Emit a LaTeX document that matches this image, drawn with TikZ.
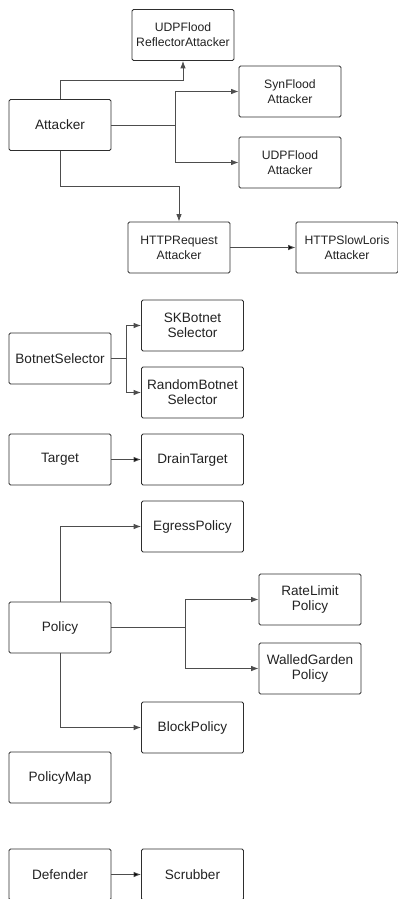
\documentclass[tikz,border=0pt]{standalone}
\usepackage{fontspec}
\setmainfont{Liberation Sans}
\usetikzlibrary{arrows.meta}
\definecolor{linegray}{HTML}{2E2E2E}
\definecolor{textgray}{HTML}{222222}

\begin{document}
\begin{tikzpicture}[x=1pt,y=-1pt,
        cls/.style={draw=linegray,line width=0.8pt,rounded corners=1.5pt,
            minimum width=102pt,minimum height=51pt,inner sep=1pt,align=center,
            text=textgray,font=\fontsize{13.6}{15}\selectfont},
        subcls/.style={cls,font=\fontsize{12.2}{15}\selectfont},
        inh/.style={draw=linegray!85!white,line width=0.8pt,-{Latex[length=7.5pt,width=5.5pt]}}]
        \clip (0,0) rectangle (398,899);
        \node[cls] (Attacker) at (60,125) {Attacker};
        \node[subcls] (Reflector) at (183,35) {UDPFlood\\ReflectorAttacker};
        \node[subcls] (SynFlood) at (290,91.5) {SynFlood\\Attacker};
        \node[subcls] (UDPFlood) at (290,162.5) {UDPFlood\\Attacker};
        \node[subcls] (HTTPRequest) at (179,247.5) {HTTPRequest\\Attacker};
        \node[subcls] (SlowLoris) at (347,247.5) {HTTPSlowLoris\\Attacker};
        \node[cls] (BotnetSel) at (60,358.5) {BotnetSelector};
        \node[cls] (SKBotnet) at (192.5,325.5) {SKBotnet\\Selector};
        \node[cls] (RandomBotnet) at (192.5,392.5) {RandomBotnet\\Selector};
        \node[cls] (Target) at (60,459.5) {Target};
        \node[cls] (DrainTarget) at (192.5,459.5) {DrainTarget};
        \node[cls] (Egress) at (192.5,526.5) {EgressPolicy};
        \node[cls] (RateLimit) at (310,599.5) {RateLimit\\Policy};
        \node[cls] (Policy) at (60,627.5) {Policy};
        \node[cls] (Walled) at (310,668.5) {WalledGarden\\Policy};
        \node[cls] (Block) at (192.5,727.5) {BlockPolicy};
        \node[cls] (PolicyMap) at (60,777.5) {PolicyMap};
        \node[cls] (Defender) at (60,874.5) {Defender};
        \node[cls] (Scrubber) at (192.5,874.5) {Scrubber};
        \draw[inh] (Attacker.north) -- ++(0,-19) -| (Reflector.south);
        \draw[inh] (Attacker.east) -- ++(64,0) |- (SynFlood.west);
        \draw[inh] (Attacker.east) -- ++(64,0) |- (UDPFlood.west);
        \draw[inh] (Attacker.south) -- ++(0,35) -| (HTTPRequest.north);
        \draw[inh] (BotnetSel.east) -- ++(15,0) |- (SKBotnet.west);
        \draw[inh] (BotnetSel.east) -- ++(15,0) |- (RandomBotnet.west);
        \draw[inh] (Policy.north) |- (Egress.west);
        \draw[inh] (Policy.east) -- ++(74,0) |- (RateLimit.west);
        \draw[inh] (Policy.east) -- ++(74,0) |- (Walled.west);
        \draw[inh] (Policy.south) |- (Block.west);
        \path[inh]
        (HTTPRequest) edge (SlowLoris)
        (Target) edge (DrainTarget)
        (Defender) edge (Scrubber);
    \end{tikzpicture}
\end{document}
